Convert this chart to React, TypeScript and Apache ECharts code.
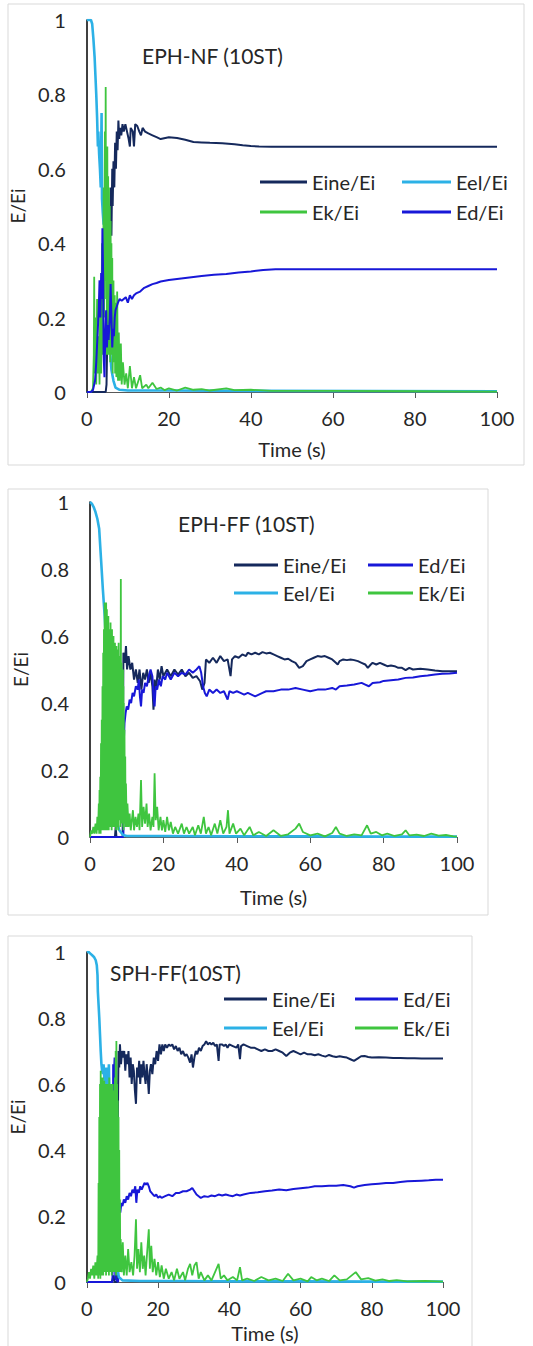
import React, { useEffect, useRef } from "react";
import * as echarts from "echarts";

// ---------- tick labels / names ----------
const xTicks = [0, 20, 40, 60, 80, 100];
const yTicks = [0, 0.2, 0.4, 0.6, 0.8, 1];
const titles = ["EPH-NF (10ST)", "EPH-FF (10ST)", "SPH-FF(10ST)"];
const names = { eine: "Eine/Ei", eel: "Eel/Ei", ek: "Ek/Ei", ed: "Ed/Ei" };

// ---------- Panel 1 : EPH-NF (10ST) ----------
const eel1 = [[0,1],[0.5,1],[1,1],[1.3,0.99],[1.6,0.95],[1.9,0.9],[2.1,0.85],[2.3,0.8],[2.5,0.74],[2.7,0.66],[2.8,0.7],[3.0,0.64],[3.2,0.6],[3.4,0.55],[3.6,0.75],[3.7,0.52],[3.9,0.48],[4.1,0.45],[4.3,0.5],[4.5,0.44],[4.7,0.38],[5.0,0.3],[5.3,0.2],[5.6,0.12],[6.0,0.06],[6.5,0.03],[7,0.012],[8,0.006],[10,0.004],[20,0.004],[40,0.003],[100,0.002]];
const ek1 = [[0,0],[1,0],[1.5,0.01],[1.7,0.1],[1.8,0.31],[1.9,0.05],[2.1,0.2],[2.3,0.02],[2.5,0.25],[2.7,0.05],[2.9,0.15],[3.1,0.02],[3.3,0.3],[3.5,0.05],[3.7,0.4],[3.9,0.1],[4.1,0.55],[4.2,0.2],[4.4,0.7],[4.5,0.3],[4.6,0.82],[4.7,0.25],[4.8,0.62],[4.9,0.1],[5.0,0.66],[5.1,0.15],[5.2,0.58],[5.3,0.1],[5.4,0.55],[5.5,0.12],[5.6,0.5],[5.7,0.08],[5.8,0.46],[5.9,0.15],[6.0,0.4],[6.1,0.1],[6.2,0.36],[6.3,0.05],[6.5,0.3],[6.6,0.08],[6.8,0.26],[6.9,0.05],[7.1,0.24],[7.2,0.04],[7.4,0.27],[7.6,0.03],[7.8,0.16],[8.0,0.03],[8.3,0.13],[8.5,0.02],[8.8,0.08],[9.2,0.02],[9.6,0.05],[10,0.01],[10.5,0.07],[11,0.01],[11.5,0.04],[12,0.01],[13,0.045],[13.5,0.01],[14.5,0.02],[15,0.01],[16,0.025],[17,0.008],[18,0.012],[19,0.005],[20,0.01],[22,0.004],[24,0.012],[26,0.006],[28,0.008],[30,0.004],[34,0.01],[36,0.005],[40,0.006],[45,0.003],[60,0.003],[80,0.002],[100,0.001]];
const eine1 = [[0,0],[3,0],[4.6,0],[4.8,0.02],[5.0,0.15],[5.2,0.3],[5.4,0.4],[5.6,0.5],[5.7,0.45],[5.9,0.55],[6.0,0.42],[6.2,0.6],[6.3,0.5],[6.5,0.62],[6.7,0.55],[6.9,0.67],[7.1,0.6],[7.3,0.7],[7.5,0.65],[7.7,0.73],[7.9,0.68],[8.1,0.71],[8.4,0.69],[8.7,0.72],[9.0,0.7],[9.4,0.72],[9.8,0.7],[10.2,0.68],[10.5,0.66],[10.7,0.71],[11.2,0.7],[11.5,0.66],[11.8,0.72],[12.3,0.715],[12.8,0.7],[13.2,0.69],[13.6,0.71],[14.2,0.7],[15,0.695],[16,0.69],[17,0.685],[18,0.68],[20,0.685],[22,0.683],[24,0.678],[26,0.672],[28,0.671],[30,0.67],[33,0.669],[36,0.666],[38,0.663],[40,0.661],[42,0.66],[45,0.659],[60,0.659],[80,0.659],[100,0.659]];
const ed1 = [[0,0],[1.0,0],[1.5,0.005],[2.0,0.03],[2.3,0.08],[2.6,0.15],[2.9,0.22],[3.1,0.3],[3.3,0.2],[3.5,0.32],[3.7,0.25],[3.8,0.44],[4.0,0.3],[4.1,0.1],[4.3,0.04],[4.5,0.15],[4.7,0.22],[4.9,0.12],[5.1,0.18],[5.3,0.14],[5.6,0.2],[5.8,0.29],[6.0,0.2],[6.2,0.12],[6.4,0.17],[6.6,0.15],[6.8,0.2],[7.0,0.22],[7.3,0.23],[7.6,0.24],[8.0,0.25],[8.5,0.245],[9.0,0.25],[9.5,0.255],[10,0.24],[10.5,0.26],[11,0.25],[11.5,0.26],[12,0.265],[13,0.27],[14,0.28],[15,0.285],[16,0.29],[17,0.293],[18,0.297],[20,0.301],[22,0.304],[25,0.308],[28,0.312],[31,0.315],[34,0.317],[37,0.321],[40,0.324],[43,0.328],[46,0.33],[60,0.33],[80,0.33],[100,0.33]];

// ---------- Panel 2 : EPH-FF (10ST) ----------
const eel2 = [[0,1],[0.5,0.995],[1,0.985],[1.5,0.97],[2,0.95],[2.5,0.92],[3.0,0.83],[3.5,0.74],[4.0,0.66],[4.5,0.55],[4.8,0.46],[5.1,0.38],[5.4,0.3],[5.8,0.22],[6.2,0.15],[6.7,0.09],[7.2,0.05],[8,0.02],[9,0.006],[10,0.003],[20,0.003],[40,0.002],[60,0.002],[80,0.001],[100,0.001]];
const ek2 = [[0,0],[0.3,0.02],[0.6,0.01],[0.9,0.03],[1.2,0.01],[1.5,0.04],[1.8,0.01],[2.0,0.06],[2.2,0.02],[2.4,0.1],[2.5,0.01],[2.6,0.14],[2.7,0.02],[2.8,0.18],[2.9,0.01],[3.0,0.28],[3.1,0.02],[3.2,0.35],[3.3,0.03],[3.4,0.45],[3.5,0.02],[3.6,0.55],[3.7,0.04],[3.8,0.62],[3.9,0.02],[4.0,0.7],[4.1,0.03],[4.2,0.66],[4.3,0.02],[4.4,0.7],[4.5,0.04],[4.6,0.68],[4.7,0.02],[4.8,0.64],[4.9,0.05],[5.0,0.66],[5.1,0.02],[5.2,0.62],[5.3,0.06],[5.4,0.6],[5.5,0.03],[5.6,0.64],[5.7,0.05],[5.8,0.58],[5.9,0.02],[6.0,0.62],[6.1,0.06],[6.2,0.57],[6.3,0.03],[6.4,0.6],[6.5,0.07],[6.6,0.55],[6.7,0.03],[6.8,0.58],[6.9,0.05],[7.0,0.54],[7.1,0.02],[7.2,0.57],[7.3,0.06],[7.4,0.56],[7.5,0.03],[7.6,0.55],[7.7,0.02],[7.8,0.58],[7.9,0.05],[8.0,0.54],[8.1,0.07],[8.2,0.5],[8.3,0.03],[8.4,0.77],[8.5,0.06],[8.6,0.52],[8.7,0.04],[8.8,0.5],[8.9,0.06],[9.0,0.5],[9.05,0.03],[9.1,0.45],[9.15,0.02],[9.2,0.4],[9.3,0.05],[9.4,0.32],[9.5,0.04],[9.6,0.24],[9.7,0.03],[9.8,0.16],[10.0,0.03],[10.2,0.1],[10.5,0.03],[10.8,0.07],[11.1,0.02],[11.4,0.05],[11.7,0.08],[12.0,0.02],[12.4,0.06],[12.8,0.03],[13.2,0.07],[13.5,0.02],[13.9,0.17],[14.2,0.03],[14.6,0.09],[15,0.04],[15.4,0.1],[15.7,0.03],[16.1,0.07],[16.5,0.02],[17.0,0.06],[17.3,0.03],[17.6,0.19],[17.9,0.05],[18.3,0.09],[18.7,0.02],[19.2,0.06],[19.6,0.02],[20,0.05],[20.5,0.015],[21,0.06],[21.5,0.02],[22,0.045],[22.6,0.01],[23.2,0.03],[24,0.01],[25,0.04],[25.6,0.01],[26.3,0.03],[27,0.01],[28,0.03],[28.6,0.005],[29.5,0.035],[30.2,0.01],[31,0.06],[31.6,0.01],[32.3,0.03],[33,0.005],[34,0.04],[34.7,0.01],[35.5,0.05],[36.3,0.01],[37.2,0.03],[37.6,0.08],[38,0.01],[39,0.04],[39.8,0.01],[41,0.025],[42,0.005],[43.5,0.03],[44.5,0.005],[46,0.015],[48,0.003],[50,0.02],[52,0.003],[54,0.008],[56,0.025],[57,0.04],[58,0.015],[60,0.005],[62,0.01],[64,0.002],[66,0.012],[67,0.03],[68,0.01],[70,0.003],[72,0.008],[74,0.005],[75.5,0.035],[76.5,0.01],[78,0.015],[79.5,0.005],[81,0.01],[83,0.003],[85,0.008],[86,0.02],[87,0.005],[89,0.007],[91,0.003],[93,0.01],[95,0.004],[97,0.006],[99,0.002],[100,0.001]];
const eine2 = [[0,0],[5,0],[6.8,0],[7.0,0.03],[7.2,0],[8.9,0],[9.0,0.3],[9.1,0.55],[9.5,0.52],[9.8,0.57],[10.1,0.5],[10.5,0.54],[11,0.5],[11.5,0.52],[12,0.47],[12.5,0.5],[13,0.46],[13.5,0.5],[14,0.44],[14.5,0.49],[15,0.47],[15.5,0.5],[16,0.46],[16.5,0.49],[17,0.45],[17.3,0.38],[17.6,0.47],[18,0.44],[18.5,0.5],[19,0.47],[19.5,0.51],[20,0.48],[21,0.5],[22,0.48],[23,0.5],[24,0.485],[25,0.5],[26,0.48],[27,0.49],[28,0.475],[29,0.48],[30,0.465],[30.6,0.44],[31.2,0.46],[31.6,0.53],[32.5,0.52],[33.5,0.535],[34.5,0.52],[35.5,0.54],[36.5,0.525],[37.5,0.53],[38.3,0.48],[38.7,0.53],[39.5,0.54],[40.5,0.535],[41.5,0.545],[42.5,0.54],[43,0.55],[44,0.545],[45,0.55],[46,0.545],[47,0.552],[48,0.548],[49,0.55],[50,0.545],[51,0.54],[52,0.535],[53,0.53],[54,0.532],[55,0.525],[56,0.52],[57,0.505],[58,0.51],[59,0.525],[60,0.53],[61,0.535],[62,0.54],[63,0.538],[64,0.54],[65,0.535],[66,0.53],[67,0.52],[67.5,0.515],[68,0.525],[69,0.53],[70,0.528],[71,0.53],[72,0.528],[73,0.525],[74,0.52],[75,0.515],[75.7,0.505],[76.5,0.515],[77,0.52],[78,0.515],[79,0.52],[80,0.515],[81,0.51],[82,0.512],[83,0.51],[84,0.505],[85,0.505],[86,0.498],[87,0.505],[88,0.5],[90,0.502],[92,0.5],[94,0.497],[96,0.495],[98,0.495],[100,0.495]];
const ed2 = [[0,0],[9.1,0],[9.2,0.28],[9.4,0.34],[9.7,0.37],[10,0.39],[10.4,0.38],[10.8,0.41],[11.2,0.4],[11.6,0.43],[12,0.42],[12.5,0.45],[13,0.44],[13.3,0.47],[13.6,0.42],[13.9,0.39],[14.2,0.44],[14.6,0.43],[15,0.46],[15.5,0.45],[16,0.48],[16.5,0.5],[17,0.48],[17.3,0.42],[17.6,0.39],[17.9,0.45],[18.3,0.44],[18.8,0.47],[19.3,0.45],[19.8,0.48],[20.5,0.47],[21,0.49],[22,0.47],[23,0.49],[24,0.48],[25,0.49],[26,0.485],[27,0.5],[28,0.49],[29,0.5],[29.8,0.51],[30.3,0.49],[30.8,0.45],[31.3,0.43],[31.8,0.42],[32.5,0.44],[33.5,0.43],[34.5,0.44],[35.5,0.43],[36.5,0.435],[37.5,0.41],[38,0.435],[39,0.43],[40,0.435],[41,0.43],[42,0.425],[43,0.43],[44,0.425],[45,0.42],[46,0.425],[47,0.43],[48,0.435],[50,0.435],[52,0.44],[54,0.44],[56,0.445],[58,0.44],[60,0.435],[62,0.44],[64,0.44],[66,0.445],[67,0.44],[68,0.45],[70,0.452],[72,0.455],[74,0.46],[75,0.455],[76,0.45],[77,0.46],[79,0.462],[80,0.466],[82,0.468],[84,0.47],[86,0.475],[88,0.476],[90,0.48],[92,0.482],[94,0.485],[96,0.487],[98,0.488],[100,0.49]];

// ---------- Panel 3 : SPH-FF(10ST) ----------
const eel3 = [[0,1],[0.5,1],[1,0.995],[1.5,0.99],[2,0.985],[2.5,0.975],[2.8,0.96],[3.0,0.93],[3.1,0.88],[3.3,0.84],[3.5,0.8],[3.7,0.75],[3.9,0.7],[4.1,0.66],[4.3,0.64],[4.5,0.63],[4.7,0.66],[4.9,0.62],[5.2,0.6],[5.5,0.65],[5.8,0.55],[6.2,0.66],[6.5,0.45],[6.8,0.35],[7.2,0.25],[7.6,0.15],[8,0.08],[8.5,0.04],[9,0.015],[10,0.005],[15,0.003],[25,0.003],[40,0.002],[60,0.002],[80,0.001],[100,0.001]];
const ek3 = [[0,0],[0.3,0.01],[0.6,0.03],[0.9,0.01],[1.2,0.04],[1.5,0.02],[1.8,0.05],[2.1,0.01],[2.4,0.06],[2.7,0.02],[3.0,0.08],[3.2,0.01],[3.3,0.3],[3.4,0.02],[3.5,0.5],[3.6,0.03],[3.7,0.6],[3.8,0.01],[3.9,0.64],[4.0,0.04],[4.1,0.62],[4.2,0.02],[4.3,0.6],[4.4,0.05],[4.5,0.62],[4.6,0.02],[4.7,0.6],[4.8,0.06],[4.9,0.61],[5.0,0.03],[5.1,0.6],[5.2,0.07],[5.3,0.58],[5.4,0.02],[5.5,0.6],[5.6,0.05],[5.7,0.58],[5.8,0.03],[5.9,0.6],[6.0,0.08],[6.1,0.6],[6.2,0.02],[6.3,0.62],[6.4,0.05],[6.5,0.58],[6.6,0.03],[6.7,0.6],[6.8,0.06],[6.9,0.56],[7.0,0.02],[7.1,0.6],[7.2,0.05],[7.3,0.58],[7.4,0.03],[7.5,0.55],[7.6,0.07],[7.7,0.6],[7.8,0.03],[7.9,0.62],[8.0,0.05],[8.1,0.7],[8.2,0.02],[8.3,0.73],[8.4,0.06],[8.5,0.6],[8.6,0.03],[8.7,0.55],[8.8,0.05],[8.9,0.5],[9.0,0.03],[9.1,0.4],[9.2,0.04],[9.3,0.25],[9.4,0.03],[9.5,0.13],[9.8,0.03],[10.1,0.12],[10.4,0.02],[10.8,0.08],[11.2,0.02],[11.6,0.1],[12,0.03],[12.5,0.06],[13,0.02],[13.4,0.08],[13.8,0.19],[14.1,0.04],[14.5,0.1],[14.9,0.03],[15.3,0.12],[15.7,0.04],[16.1,0.08],[16.5,0.02],[17.0,0.1],[17.4,0.16],[17.7,0.04],[18.1,0.11],[18.5,0.03],[19,0.07],[19.5,0.02],[20,0.06],[20.5,0.015],[21,0.05],[21.6,0.01],[22.2,0.04],[23,0.01],[23.8,0.03],[24.5,0.005],[25.3,0.04],[26,0.01],[27,0.03],[27.6,0.005],[28.4,0.04],[29,0.055],[29.6,0.02],[30.2,0.05],[30.8,0.06],[31.4,0.01],[32,0.03],[33,0.005],[34,0.02],[35,0.005],[36,0.03],[37,0.055],[37.6,0.01],[38.5,0.02],[39.5,0.005],[41,0.015],[42.2,0.005],[43,0.045],[43.6,0.005],[45,0.01],[47,0.003],[49,0.015],[51,0.005],[53,0.01],[55,0.003],[56.5,0.025],[58,0.005],[60,0.01],[62,0.002],[63,0.015],[64.5,0.005],[66,0.01],[68,0.003],[69.5,0.02],[71,0.005],[73,0.008],[75.5,0.03],[77,0.008],[79,0.012],[81,0.004],[83,0.008],[85,0.003],[87,0.006],[90,0.002],[95,0.003],[100,0.001]];
const eine3 = [[0,0],[7,0],[7.5,0.02],[7.8,0],[8.5,0],[8.6,0.3],[8.7,0.46],[8.8,0.6],[8.9,0.7],[9.1,0.65],[9.3,0.72],[9.6,0.66],[9.9,0.7],[10.2,0.68],[10.5,0.7],[10.8,0.64],[11.1,0.69],[11.4,0.66],[11.7,0.7],[12,0.62],[12.3,0.68],[12.6,0.6],[12.9,0.66],[13.2,0.64],[13.5,0.58],[13.8,0.54],[14.1,0.65],[14.4,0.62],[14.7,0.67],[15,0.6],[15.3,0.66],[15.6,0.62],[15.9,0.67],[16.2,0.63],[16.5,0.6],[16.8,0.66],[17.1,0.62],[17.4,0.57],[17.7,0.64],[18,0.66],[18.4,0.63],[18.8,0.68],[19.2,0.66],[19.6,0.7],[20,0.67],[20.4,0.72],[20.8,0.69],[21.2,0.72],[21.6,0.7],[22,0.72],[22.5,0.71],[23,0.72],[23.5,0.715],[24,0.72],[24.5,0.705],[25,0.715],[25.5,0.7],[26,0.71],[26.5,0.69],[27,0.7],[27.5,0.685],[28,0.69],[28.5,0.68],[29,0.665],[29.4,0.69],[29.8,0.65],[30.2,0.68],[30.6,0.7],[31,0.69],[31.5,0.71],[32,0.7],[32.5,0.715],[33,0.72],[33.5,0.73],[34,0.72],[34.5,0.725],[35,0.72],[35.5,0.725],[36,0.715],[36.5,0.72],[37,0.67],[37.3,0.72],[38,0.72],[38.5,0.715],[39,0.72],[39.5,0.71],[40,0.72],[41,0.715],[42,0.71],[42.5,0.72],[43,0.675],[43.3,0.715],[44,0.72],[45,0.715],[46,0.71],[47,0.71],[48,0.705],[49,0.7],[50,0.705],[51,0.7],[52,0.7],[53,0.705],[54,0.7],[55,0.695],[56,0.685],[57,0.695],[58,0.7],[59,0.695],[60,0.69],[61,0.695],[62,0.69],[63,0.69],[64,0.687],[65,0.69],[66,0.686],[67,0.683],[68,0.688],[69,0.684],[70,0.682],[71,0.684],[72,0.682],[73,0.68],[74,0.675],[75,0.67],[76,0.677],[77,0.684],[78,0.685],[79,0.682],[80,0.68],[82,0.681],[84,0.68],[86,0.679],[88,0.679],[90,0.678],[92,0.678],[94,0.677],[96,0.677],[98,0.677],[100,0.677]];
const ed3 = [[0,0],[7.2,0],[7.4,0.66],[7.6,0.62],[7.8,0.68],[8.0,0.01],[8.8,0],[8.9,0.2],[9.1,0.22],[9.4,0.21],[9.7,0.24],[10,0.23],[10.4,0.25],[10.8,0.24],[11.2,0.26],[11.6,0.25],[12,0.27],[12.4,0.26],[12.8,0.28],[13.2,0.27],[13.6,0.29],[13.9,0.24],[14.2,0.28],[14.6,0.27],[15,0.29],[15.4,0.28],[15.8,0.29],[16.2,0.3],[16.6,0.295],[17,0.3],[17.4,0.29],[17.8,0.275],[18.2,0.27],[18.6,0.265],[19,0.26],[19.5,0.265],[20,0.255],[20.5,0.26],[21,0.255],[22,0.26],[23,0.265],[24,0.26],[25,0.27],[26,0.27],[27,0.275],[28,0.275],[29,0.28],[29.6,0.285],[30.2,0.275],[30.8,0.265],[31.4,0.26],[32,0.255],[33,0.26],[34,0.258],[35,0.262],[36,0.26],[37,0.265],[38,0.262],[39,0.265],[40,0.262],[41,0.26],[42,0.265],[43,0.262],[44,0.265],[46,0.27],[48,0.272],[50,0.275],[52,0.277],[54,0.28],[56,0.278],[58,0.282],[60,0.284],[62,0.286],[64,0.29],[66,0.29],[68,0.292],[70,0.292],[72,0.294],[74,0.29],[75,0.286],[76,0.29],[78,0.294],[80,0.296],[82,0.298],[84,0.3],[86,0.3],[88,0.303],[90,0.305],[92,0.306],[94,0.307],[96,0.308],[98,0.31],[100,0.31]];

const COLORS = { eine: "#15295c", eel: "#2cb1e6", ek: "#3fc53f", ed: "#1818d8" };
const WIDTHS = { eine: 2, eel: 2.6, ek: 1.8, ed: 2 };
const FONT = "Lato";
const TXT = "#262626";

const panels = [
  { grid: { left: 81, top: 20, width: 416, height: 372 }, frame: [8, 4, 516, 461], title: [142, 55], xNameGap: 47, yNameGap: 44,
    data: { eel: eel1, ek: ek1, eine: eine1, ed: ed1 }, order: ["eine", "eel", "ek", "ed"],
    legendCols: [ { left: 260, iw: 47, items: ["eine", "ek"] }, { left: 402, iw: 49, items: ["eel", "ed"] } ], legendTop: 182, legendGap: 30 },
  { grid: { left: 90, top: 502, width: 367, height: 335 }, frame: [8, 489, 480, 426], title: [178, 523], xNameGap: 50, yNameGap: 53,
    data: { eel: eel2, ek: ek2, eine: eine2, ed: ed2 }, order: ["eine", "ed", "eel", "ek"],
    legendCols: [ { left: 234, iw: 44, items: ["eine", "eel"] }, { left: 368, iw: 45, items: ["ed", "ek"] } ], legendTop: 565, legendGap: 28 },
  { grid: { left: 74, top: 952, width: 369, height: 330 }, frame: [8, 936, 464, 430], title: [110, 972], xNameGap: 41, yNameGap: 37,
    data: { eel: eel3, ek: ek3, eine: eine3, ed: ed3 }, order: ["eine", "ed", "eel", "ek"],
    legendCols: [ { left: 224, iw: 43, items: ["eine", "eel"] }, { left: 355, iw: 43, items: ["ed", "ek"] } ], legendTop: 999, legendGap: 29 },
];

function buildOption() {
  const grid: any[] = [];
  const xAxis: any[] = [];
  const yAxis: any[] = [];
  const series: any[] = [];
  const title: any[] = [];
  const legend: any[] = [];
  const graphic: any[] = [];
  panels.forEach((p, i) => {
    grid.push({ ...p.grid, containLabel: false });
    xAxis.push({
      type: "value", gridIndex: i, min: xTicks[0], max: xTicks[xTicks.length - 1], interval: xTicks[1] - xTicks[0],
      name: "Time (s)", nameLocation: "middle", nameGap: p.xNameGap,
      nameTextStyle: { fontFamily: FONT, fontSize: 20, color: TXT },
      axisLine: { show: true, onZero: false, lineStyle: { color: "#595959", width: 1.2 } },
      axisTick: { show: true, length: 6, lineStyle: { color: "#595959" } },
      axisLabel: { fontFamily: FONT, fontSize: 20, color: TXT, margin: 16 },
      splitLine: { show: false },
    });
    yAxis.push({
      type: "value", gridIndex: i, min: yTicks[0], max: yTicks[yTicks.length - 1], interval: yTicks[1] - yTicks[0],
      name: "E/Ei", nameLocation: "middle", nameGap: p.yNameGap,
      nameTextStyle: { fontFamily: FONT, fontSize: 19, color: TXT },
      axisLine: { show: true, onZero: false, lineStyle: { color: "#000", width: 1.5 } },
      axisTick: { show: false },
      axisLabel: { fontFamily: FONT, fontSize: 20, color: TXT, margin: 21 },
      splitLine: { show: false },
    });
    p.order.forEach((k) => {
      series.push({
        type: "line", name: (names as any)[k], xAxisIndex: i, yAxisIndex: i,
        data: (p.data as any)[k], symbol: "none", showSymbol: false,
        lineStyle: { color: (COLORS as any)[k], width: (WIDTHS as any)[k] },
        itemStyle: { color: (COLORS as any)[k] },
        silent: true,
      });
    });
    title.push({
      text: titles[i], left: p.title[0], top: p.title[1] - 12, padding: 0,
      textStyle: { fontFamily: FONT, fontSize: 21, fontWeight: "normal", color: TXT, lineHeight: 24 },
    });
    p.legendCols.forEach((c) => {
      legend.push({
        orient: "vertical", left: c.left, top: p.legendTop - 10, padding: 0,
        icon: "rect", itemWidth: c.iw, itemHeight: 3, itemGap: p.legendGap - 20,
        data: c.items.map((k) => (names as any)[k]),
        textStyle: { fontFamily: FONT, fontSize: 20, color: TXT, lineHeight: 20 },
        selectedMode: false,
      });
    });
    graphic.push({
      type: "rect", shape: { x: p.frame[0], y: p.frame[1], width: p.frame[2], height: p.frame[3] },
      style: { fill: "none", stroke: "#d9d9d9", lineWidth: 1 }, silent: true, z: -10,
    });
  });
  return { animation: false, backgroundColor: "#fff", grid, xAxis, yAxis, series, title, legend, graphic };
}

export default function App() {
  const ref = useRef<HTMLDivElement>(null);
  useEffect(() => {
    if (!ref.current) return;
    const chart = echarts.init(ref.current, undefined, { renderer: "svg" });
    chart.setOption(buildOption() as any);
    return () => chart.dispose();
  }, []);
  return <div ref={ref} style={{ position: "absolute", left: 0, top: 0, width: 533, height: 1346 }} />;
}
